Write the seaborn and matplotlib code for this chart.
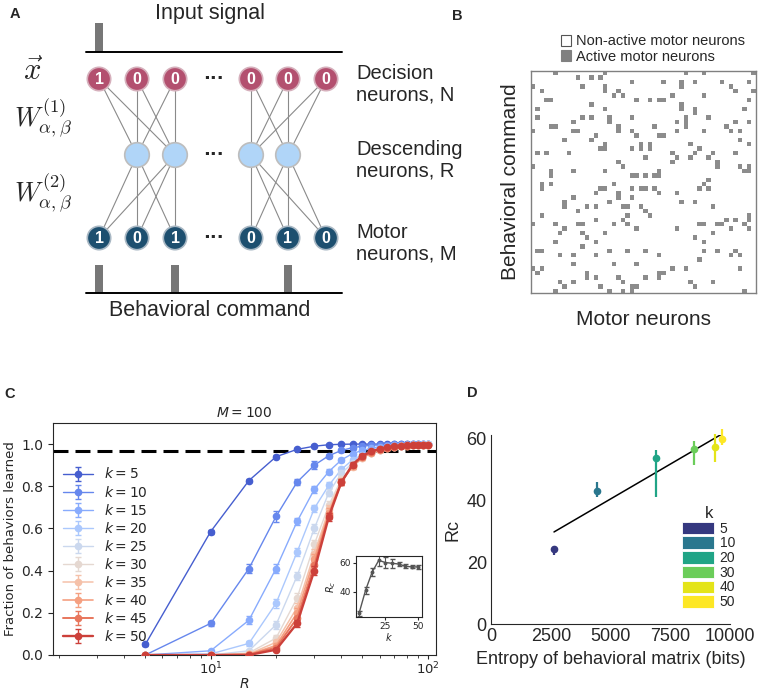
import numpy as np
import pandas as pd
import matplotlib
matplotlib.use('Agg')
import matplotlib.pyplot as plt
from matplotlib.patches import Circle, Rectangle, Patch
from matplotlib.colors import ListedColormap
import seaborn as sns

sns.set_style('ticks')
plt.rcParams['font.family'] = ['DejaVu Sans']
ARIAL = 'Liberation Sans'

# ---------------- data ----------------
# panel A: schematic network states
decision_states = [1, 0, 0, 0, 0, 0]
motor_states = [1, 0, 1, 0, 1, 0]
n_descending = 4

# panel B: active cells of the behavioral matrix (row -> active columns), 50 x 50
n_behaviors = 50
n_motor = 50
active_cells = {
    0: [5, 16, 34, 38, 49], 1: [10, 13, 15], 2: [22, 29, 33, 36, 42, 48],
    3: [0, 11, 16, 33, 44], 4: [2, 16, 19, 45, 49], 5: [18, 20, 31, 38],
    6: [3, 4, 23, 26, 28, 29, 48], 7: [13, 33], 8: [1, 16, 33, 36, 47], 9: [36],
    10: [1, 11, 13, 17, 22, 34, 39], 11: [9, 17, 32, 34, 45, 48],
    12: [4, 5, 19, 27, 34, 43], 13: [0, 9, 10, 19, 22, 32, 38, 44, 46],
    14: [14, 23, 28, 29], 15: [7, 13, 46], 16: [16, 24, 26, 35, 48],
    17: [15, 16, 22, 24, 26, 37], 18: [1, 3, 8, 31, 36, 40, 45],
    19: [25, 32, 35, 39], 20: [19, 31, 41], 21: [0, 20, 41, 46, 48],
    22: [4, 9, 16, 28, 47, 48], 23: [4, 22, 23, 25, 27, 28], 24: [39],
    25: [2, 4, 18, 38], 26: [2, 15, 16, 22, 24, 25, 27, 37, 39],
    27: [14, 19, 28, 32], 28: [9, 19, 22], 29: [7, 17, 33, 36],
    30: [7, 12, 14, 20, 21, 24, 40], 31: [10, 25], 32: [2, 21, 26, 48],
    33: [14, 20, 43, 45, 48], 34: [0, 5, 10, 11, 18, 21, 37, 38, 41, 42, 47],
    35: [7, 23, 32, 44, 48], 36: [6, 11, 16, 40], 37: [12, 36], 38: [5, 14, 38],
    39: [11], 40: [1, 2, 17, 21, 25, 38, 41, 45], 41: [6, 9, 14, 28, 44, 46],
    42: [37], 43: [9, 18, 23], 44: [0, 2, 31, 34, 46], 45: [1, 12, 28, 29],
    46: [12, 14, 19, 25, 28], 47: [6, 9, 20, 35, 40], 48: [7, 15, 22, 23, 36],
    49: [5, 17, 20, 22, 47],
}

# panel C: fraction of behaviors learned vs R, for each k (M = 100)
R_values = [5, 10, 15, 20, 25, 30, 35, 40, 45, 50, 55, 60, 65, 70, 75, 80, 85, 90, 95, 100]
k_values = [5, 10, 15, 20, 25, 30, 35, 40, 45, 50]
frac = {
    5:  [0.05, 0.585, 0.827, 0.94, 0.975, 0.99, 0.997, 0.999, 1, 1, 1, 1, 1, 1, 1, 1, 1, 1, 1, 1],
    10: [0.0, 0.15, 0.41, 0.657, 0.82, 0.90, 0.945, 0.97, 0.983, 0.99, 0.995, 0.997, 0.998, 0.999, 1, 1, 1, 1, 1, 1],
    15: [0.0, 0.02, 0.165, 0.41, 0.633, 0.785, 0.87, 0.925, 0.955, 0.97, 0.98, 0.987, 0.992, 0.995, 0.997, 0.998, 0.999, 0.999, 1, 1],
    20: [0.0, 0.005, 0.055, 0.245, 0.488, 0.695, 0.805, 0.88, 0.925, 0.95, 0.965, 0.977, 0.985, 0.99, 0.993, 0.995, 0.997, 0.998, 0.999, 0.999],
    25: [0.0, 0.0, 0.02, 0.143, 0.375, 0.60, 0.77, 0.862, 0.91, 0.94, 0.96, 0.973, 0.982, 0.988, 0.992, 0.994, 0.996, 0.997, 0.998, 0.999],
    30: [0.0, 0.0, 0.01, 0.08, 0.27, 0.525, 0.71, 0.835, 0.895, 0.935, 0.957, 0.97, 0.98, 0.987, 0.991, 0.994, 0.996, 0.997, 0.998, 0.998],
    35: [0.0, 0.0, 0.005, 0.06, 0.225, 0.48, 0.69, 0.825, 0.893, 0.935, 0.957, 0.97, 0.98, 0.986, 0.99, 0.993, 0.995, 0.996, 0.997, 0.998],
    40: [0.0, 0.0, 0.003, 0.045, 0.20, 0.455, 0.675, 0.82, 0.895, 0.937, 0.96, 0.972, 0.98, 0.986, 0.99, 0.993, 0.995, 0.996, 0.997, 0.998],
    45: [0.0, 0.0, 0.002, 0.035, 0.175, 0.425, 0.665, 0.82, 0.90, 0.94, 0.962, 0.975, 0.982, 0.987, 0.99, 0.993, 0.995, 0.996, 0.997, 0.998],
    50: [0.0, 0.0, 0.0, 0.025, 0.15, 0.40, 0.655, 0.82, 0.903, 0.945, 0.965, 0.978, 0.985, 0.99, 0.992, 0.994, 0.995, 0.996, 0.997, 0.997],
}
frac_err = {
    5:  [0.008, 0.01, 0.008, 0.007, 0.005, 0.004, 0.002, 0.001, 0, 0, 0, 0, 0, 0, 0, 0, 0, 0, 0, 0],
    10: [0.0, 0.012, 0.02, 0.025, 0.015, 0.02, 0.01, 0.008, 0.005, 0.004, 0.003, 0.002, 0.001, 0.001, 0, 0, 0, 0, 0, 0],
    15: [0.0, 0.005, 0.02, 0.02, 0.018, 0.015, 0.01, 0.01, 0.008, 0.006, 0.005, 0.004, 0.003, 0.002, 0.002, 0.001, 0.001, 0.001, 0, 0],
    20: [0.0, 0.002, 0.012, 0.02, 0.02, 0.018, 0.015, 0.012, 0.01, 0.008, 0.006, 0.005, 0.004, 0.003, 0.002, 0.002, 0.001, 0.001, 0.001, 0.001],
    25: [0.0, 0.0, 0.006, 0.018, 0.02, 0.02, 0.018, 0.014, 0.012, 0.01, 0.008, 0.006, 0.005, 0.004, 0.003, 0.002, 0.002, 0.001, 0.001, 0.001],
    30: [0.0, 0.0, 0.004, 0.015, 0.022, 0.022, 0.02, 0.016, 0.012, 0.01, 0.008, 0.006, 0.005, 0.004, 0.003, 0.002, 0.002, 0.001, 0.001, 0.001],
    35: [0.0, 0.0, 0.003, 0.012, 0.022, 0.024, 0.02, 0.016, 0.012, 0.01, 0.008, 0.006, 0.005, 0.004, 0.003, 0.002, 0.002, 0.001, 0.001, 0.001],
    40: [0.0, 0.0, 0.002, 0.01, 0.022, 0.024, 0.02, 0.016, 0.012, 0.01, 0.008, 0.006, 0.005, 0.004, 0.003, 0.002, 0.002, 0.001, 0.001, 0.001],
    45: [0.0, 0.0, 0.002, 0.01, 0.02, 0.024, 0.02, 0.016, 0.012, 0.01, 0.008, 0.006, 0.005, 0.004, 0.003, 0.002, 0.002, 0.001, 0.001, 0.001],
    50: [0.0, 0.0, 0.0, 0.008, 0.018, 0.022, 0.02, 0.016, 0.012, 0.01, 0.008, 0.006, 0.005, 0.004, 0.003, 0.002, 0.002, 0.001, 0.001, 0.001],
}
learned_threshold = 0.965

# inset of C: critical R vs k
rc_k = [5, 10, 15, 20, 25, 30, 35, 40, 45, 50]
rc_vals = [25, 41, 53.5, 61.5, 60, 59.5, 59, 57.5, 57, 57]
rc_errs = [1.5, 2.5, 3, 4, 4, 3, 1.5, 1.5, 1, 1.5]

# panel D: Rc vs entropy of behavioral matrix
d_k = ['5', '10', '20', '30', '40', '50']
entropy_bits = [2636, 4421, 6904, 8494, 9372, 9665]
rc_mean = [24.2, 43.0, 53.5, 56.5, 57.3, 59.7]
rc_low = [1.8, 1.8, 12.5, 5.1, 4.8, 1.9]
rc_high = [1.1, 3.0, 2.7, 2.6, 4.1, 3.2]
d_colors = ['#35387f', '#2a778e', '#20a486', '#6bcd5a', '#e4e419', '#fde725']

# ---------------- figure ----------------
W, H = 765, 698
fig = plt.figure(figsize=(W / 100, H / 100), dpi=100)


def fpos(x0, y0, x1, y1):
    return [x0 / W, 1 - y1 / H, (x1 - x0) / W, (y1 - y0) / H]


# panel labels
for lab, (px, py) in {'A': (10, 14), 'B': (452, 16), 'C': (4, 394), 'D': (467, 393)}.items():
    fig.text(px / W, 1 - py / H, lab, fontsize=10.5, fontweight='bold',
             fontfamily=ARIAL, ha='left', va='center')

# ---- A: network schematic
ax_a = fig.add_axes(fpos(0, 0, 480, 330))
ax_a.set_xlim(0, 480)
ax_a.set_ylim(330, 0)
ax_a.axis('off')

neuron_x = [99, 137, 175, 251, 288, 326]
desc_x = [137, 175, 251, 288][:n_descending]
y_dec, y_desc, y_mot = 79, 155, 238
groups = [([0, 1, 2], [0, 1]), ([3, 4, 5], [2, 3])]
for outer, inner in groups:
    for i in outer:
        for j in inner:
            ax_a.plot([neuron_x[i], desc_x[j]], [y_dec, y_desc], color='#8a8a8a', lw=0.8, zorder=1)
            ax_a.plot([neuron_x[i], desc_x[j]], [y_mot, y_desc], color='#8a8a8a', lw=0.8, zorder=1)

for x, s in zip(neuron_x, decision_states):
    ax_a.add_patch(Circle((x, y_dec), 11.7, fc='#b3506f', ec='#d6b0bc', lw=1.2, zorder=3))
    ax_a.text(x, y_dec + 0.5, str(s), ha='center', va='center', color='white',
              fontsize=11.5, fontweight='bold', fontfamily=ARIAL, zorder=4)
for x in desc_x:
    ax_a.add_patch(Circle((x, y_desc), 12.3, fc='#b0d5f8', ec='#bdbdbd', lw=1.2, zorder=3))
for x, s in zip(neuron_x, motor_states):
    ax_a.add_patch(Circle((x, y_mot), 11.7, fc='#1d4f6f', ec='#a9b8c4', lw=1.2, zorder=3))
    ax_a.text(x, y_mot + 0.5, str(s), ha='center', va='center', color='white',
              fontsize=11.5, fontweight='bold', fontfamily=ARIAL, zorder=4)
for y in (y_dec, y_desc, y_mot):
    ax_a.text(213, y, '···', ha='center', va='center', fontsize=13, fontweight='bold')

# input signal / behavioral command bars
for x, s in zip(neuron_x, decision_states):
    if s:
        ax_a.add_patch(Rectangle((x - 4.3, 23.3), 8.6, 28.4, color='#777777', lw=0))
for x, s in zip(neuron_x, motor_states):
    if s:
        ax_a.add_patch(Rectangle((x - 4.3, 265), 8.6, 27.7, color='#777777', lw=0))
ax_a.plot([86, 342], [51.7, 51.7], color='black', lw=1.4)
ax_a.plot([86, 342], [292.7, 292.7], color='black', lw=1.4)

ax_a.text(210, 14, 'Input signal', ha='center', va='center', fontsize=15.5, fontfamily=ARIAL)
ax_a.text(210, 311, 'Behavioral command', ha='center', va='center', fontsize=15.5, fontfamily=ARIAL)
ax_a.text(356, 84, 'Decision\nneurons, N', ha='left', va='center', fontsize=14.5,
          fontfamily=ARIAL, linespacing=1.15)
ax_a.text(356, 160, 'Descending\nneurons, R', ha='left', va='center', fontsize=14.5,
          fontfamily=ARIAL, linespacing=1.15)
ax_a.text(356, 243, 'Motor\nneurons, M', ha='left', va='center', fontsize=14.5,
          fontfamily=ARIAL, linespacing=1.15)
ax_a.text(33, 71, r'$\vec{x}$', ha='center', va='center', fontsize=22, math_fontfamily='cm')
ax_a.text(43, 118, r'$W^{(1)}_{\alpha,\beta}$', ha='center', va='center', fontsize=19, math_fontfamily='cm')
ax_a.text(43, 193, r'$W^{(2)}_{\alpha,\beta}$', ha='center', va='center', fontsize=19, math_fontfamily='cm')

# ---- B: behavioral matrix
mat = np.zeros((n_behaviors, n_motor))
for r, cols in active_cells.items():
    mat[r, cols] = 1

ax_b = fig.add_axes(fpos(530.7, 71, 756, 293))
sns.heatmap(mat, ax=ax_b, cmap=ListedColormap(['white', '#8c8c8c']), cbar=False,
            linewidths=0, xticklabels=False, yticklabels=False)
for sp in ax_b.spines.values():
    sp.set_visible(True)
    sp.set_color('#808080')
    sp.set_linewidth(1.0)
ax_b.set_ylabel('Behavioral command', fontsize=15, fontfamily=ARIAL, labelpad=8)
ax_b.set_xlabel('Motor neurons', fontsize=15, fontfamily=ARIAL, labelpad=12)
b_handles = [Patch(fc='white', ec='#555555', lw=0.8), Patch(fc='#808080', ec='#808080', lw=0.8)]
ax_b.legend(b_handles, ['Non-active motor neurons', 'Active motor neurons'],
            loc='lower left', bbox_to_anchor=(0.1, 1.0), frameon=False,
            prop={'family': ARIAL, 'size': 10.5}, handlelength=0.75, handleheight=0.75,
            handletextpad=0.3, labelspacing=0.1, borderpad=0, borderaxespad=0.5)

# ---- C: fraction learned vs R
ax_c = fig.add_axes(fpos(53, 423, 436, 655))
pal = sns.color_palette(plt.get_cmap('coolwarm')(np.linspace(0.04, 0.93, len(k_values))))
lws = [1.0, 1.0, 1.0, 1.0, 1.0, 1.0, 1.1, 1.2, 1.4, 1.7]
ax_c.axhline(learned_threshold, color='black', ls=(0, (4.9, 2.3)), lw=2.2, zorder=1.5)
for i, k in enumerate(k_values):
    ax_c.errorbar(R_values, frac[k], yerr=frac_err[k], color=pal[i], marker='o', ms=4.5,
                  lw=lws[i], elinewidth=1.0, capsize=2, label=f'$k = {k}$', zorder=2 + i * 0.1)
ax_c.set_xscale('log')
ax_c.set_xlim(1.88, 109)
ax_c.set_ylim(0, 1.1)
ax_c.set_yticks([0.0, 0.2, 0.4, 0.6, 0.8, 1.0])
ax_c.tick_params(labelsize=10)
ax_c.tick_params(axis='x', which='major', length=3, pad=1, labelsize=9.5)
ax_c.tick_params(axis='x', which='minor', length=2)
ax_c.set_xlabel('$R$', fontsize=10, labelpad=0)
ax_c.set_ylabel('Fraction of behaviors learned', fontsize=9.5, labelpad=3)
ax_c.set_title('$M = 100$', fontsize=10, pad=4)
ax_c.legend(loc='center left', bbox_to_anchor=(0.0, 0.43), frameon=False, fontsize=10,
            labelspacing=0.22, handlelength=2.2, borderaxespad=0.3)

# inset: Rc vs k
ax_in = fig.add_axes(fpos(356, 556, 421.7, 617))
ax_in.errorbar(rc_k, rc_vals, yerr=rc_errs, color='#555555', marker='o', ms=1.8, lw=1.0,
               elinewidth=0.8, capsize=1.8)
ax_in.set_xlim(2.7, 52.6)
ax_in.set_ylim(22.5, 64.5)
ax_in.set_xticks([25, 50])
ax_in.set_yticks([40, 60])
ax_in.tick_params(labelsize=6.5, length=2, pad=1.5)
ax_in.set_xlabel('$k$', fontsize=7, labelpad=0)
ax_in.set_ylabel('$R_c$', fontsize=7, labelpad=1)

# ---- D: Rc vs entropy
ax_d = fig.add_axes(fpos(491, 435.2, 730, 624.3))
df_d = pd.DataFrame({'entropy': entropy_bits, 'rc': rc_mean})
sns.regplot(data=df_d, x='entropy', y='rc', scatter=False, ci=None, truncate=True,
            color='black', line_kws={'lw': 1.1}, ax=ax_d)
for x, y, lo, hi, c in zip(entropy_bits, rc_mean, rc_low, rc_high, d_colors):
    ax_d.errorbar([x], [y], yerr=[[lo], [hi]], fmt='o', color=c, ms=4.5, elinewidth=1.6,
                  capsize=0, clip_on=False, zorder=3)
ax_d.set_xlim(0, 10000)
ax_d.set_ylim(0, 61)
ax_d.set_xticks([0, 2500, 5000, 7500, 10000])
ax_d.set_yticks([0, 20, 40, 60])
ax_d.tick_params(labelsize=13, length=0, pad=3, labelfontfamily=ARIAL)
sns.despine(ax=ax_d)
for sp in ax_d.spines.values():
    sp.set_linewidth(0.8)
ax_d.set_xlabel('Entropy of behavioral matrix (bits)', fontsize=13, fontfamily=ARIAL)
ax_d.set_ylabel('Rc', fontsize=13, fontfamily=ARIAL)
d_handles = [Patch(fc=c, ec='white', lw=0.6) for c in d_colors]
ax_d.legend(d_handles, d_k, title='k', loc='lower left', bbox_to_anchor=(0.80, 0.08),
            frameon=False, prop={'family': ARIAL, 'size': 10},
            title_fontproperties={'family': ARIAL, 'size': 12},
            handlelength=2.3, handleheight=1.0, labelspacing=0.05, handletextpad=0.4,
            borderpad=0, borderaxespad=0)

fig.savefig('out.png', dpi=100)
